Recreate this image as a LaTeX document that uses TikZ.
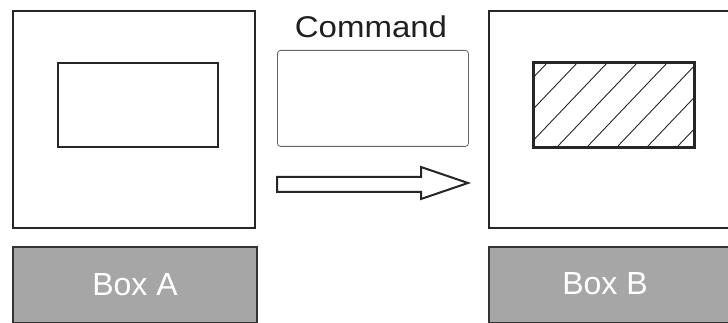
\documentclass[tikz,border=0pt]{standalone}
\usepackage{fontspec}
\setmainfont{Liberation Sans}
\begin{document}
\begin{tikzpicture}[x=1pt,y=-1pt,
  frame/.style={draw=black!85,line width=2pt,fill=white,inner sep=0pt,anchor=north west},
  label box/.style={draw=black!80,line width=2pt,fill=black!35,inner sep=0pt,anchor=north west,
    text=white,font=\fontsize{32}{36}\selectfont},
  cmdbox/.style={draw=black!60,line width=0.8pt,rounded corners=3pt,fill=white,inner sep=0pt,anchor=north west},
  hatch/.style={line width=0.9pt,black!85}]
\useasboundingbox (0,0) rectangle (728,323);
\clip (0,0) rectangle (728,323);
% left
\node[frame,minimum width=242pt,minimum height=217pt] (outerA) at (12,10) {};
\node[frame,minimum width=160pt,minimum height=84pt] (innerA) at (57,62) {};
\node[label box,minimum width=244pt,minimum height=76pt] (boxA) at (12,246) {Box A};
% middle
\node[font=\fontsize{30}{36}\selectfont,text=black!88,inner sep=0pt,anchor=base,xscale=1.1] (cmd) at (371,38) {Command};
\node[cmdbox,minimum width=191pt,minimum height=96pt] (cmdbox) at (277,50) {};
\draw[line width=2pt,black!85,line join=miter] (277,177) -- (421,177) -- (421,167) -- (468,183)
  -- (421,199) -- (421,192) -- (277,192) -- cycle;
% right
\node[frame,minimum width=260pt,minimum height=217pt] (outerB) at (488,10) {};
\node[frame,minimum width=160pt,minimum height=84pt] (innerB) at (533,62) {};
\begin{scope}
  \clip (innerB.north west) rectangle (innerB.south east);
  \foreach \b in {468,498,...,738} {
    \draw[hatch] (\b,146) -- ++(80,-84);
  }
\end{scope}
\draw[line width=2pt,black!85] (innerB.north west) rectangle (innerB.south east);
\node[label box,minimum width=260pt,minimum height=76pt] (boxB) at (488,246) {};
\node[text=white,font=\fontsize{32}{36}\selectfont,inner sep=0pt] (boxBtext) at (605,284) {Box B};
\end{tikzpicture}
\end{document}
